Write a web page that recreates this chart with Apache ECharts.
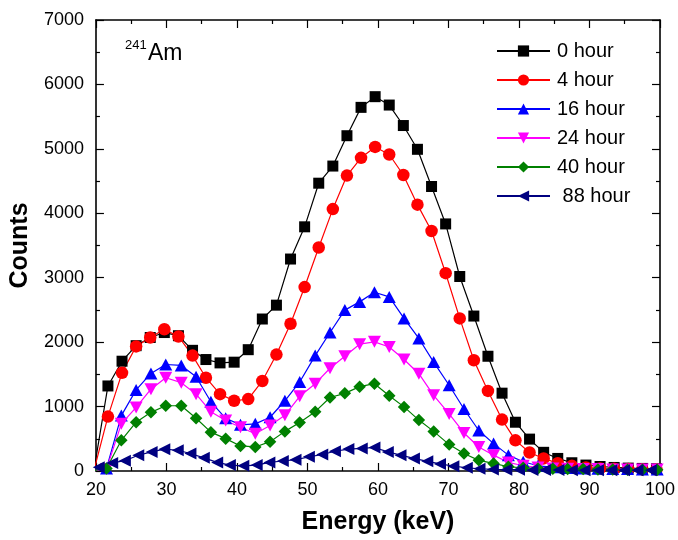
<!DOCTYPE html>
<html>
<head>
<meta charset="utf-8">
<title>241Am counts</title>
<script src="https://cdn.jsdelivr.net/npm/echarts@6/dist/echarts.min.js"></script>
<style>
  html, body { margin: 0; padding: 0; background: #fff; }
  #chart { width: 678px; height: 540px; }
</style>
</head>
<body>
<div id="chart"></div>
<script>
  // energy channels (keV), each group of runs has its own calibration
  var energyA = [19.7, 21.7, 23.7, 25.7, 27.7, 29.7, 31.7, 33.7, 35.6, 37.6, 39.6, 41.6, 43.6, 45.6, 47.6, 49.6, 51.6, 53.6, 55.6, 57.6,
    59.6, 61.6, 63.6, 65.6, 67.6, 69.6, 71.6, 73.6, 75.6, 77.6, 79.5, 81.5, 83.5, 85.5, 87.5, 89.5, 91.5, 93.5, 95.5, 97.5, 99.5]
  var energyB = [19.4, 21.5, 23.6, 25.7, 27.8, 29.9, 32.1, 34.2, 36.3, 38.4, 40.5, 42.6, 44.7, 46.8, 48.9, 51.1, 53.2, 55.3, 57.4, 59.5,
    61.6, 63.7, 65.8, 67.9, 70.1, 72.2, 74.3, 76.4, 78.5, 80.6, 82.7, 84.8, 86.9, 89.1, 91.2, 93.3, 95.4, 97.5, 99.6]
  var energyC = [20.4, 22.3, 24.1, 26.0, 27.9, 29.7, 31.6, 33.4, 35.3, 37.2, 39.0, 40.9, 42.8, 44.6, 46.5, 48.3, 50.2, 52.1, 53.9, 55.8,
    57.7, 59.5, 61.4, 63.2, 65.1, 67.0, 68.8, 70.7, 72.6, 74.4, 76.3, 78.2, 80.0, 81.9, 83.7, 85.6, 87.5, 89.3, 91.2, 93.1, 94.9, 96.8, 98.7]

  var hour0 = [0, 1320, 1704, 1945, 2072, 2149, 2100, 1873, 1730, 1678, 1689, 1883, 2359, 2574, 3290, 3790, 4467, 4733, 5204, 5644,
    5810, 5680, 5362, 4993, 4416, 3835, 3019, 2405, 1781, 1208, 757, 495, 290, 195, 128, 92, 70, 55, 45, 40, 35]
  var hour4 = [0, 844, 1524, 1934, 2072, 2200, 2088, 1791, 1448, 1193, 1090, 1116, 1397, 1807, 2285, 2855, 3469, 4065, 4585, 4861,
    5030, 4912, 4594, 4134, 3725, 3070, 2368, 1719, 1243, 798, 476, 287, 195, 120, 80, 55, 40, 35, 30, 25, 25]
  var hour16 = [0, 40, 860, 1259, 1515, 1653, 1638, 1463, 1074, 818, 716, 732, 834, 1090, 1382, 1791, 2149, 2497, 2625, 2775,
    2702, 2368, 2057, 1690, 1331, 962, 629, 425, 246, 143, 81, 60, 45, 40, 35, 30, 30, 25, 25]
  var hour24 = [0, 30, 732, 987, 1269, 1448, 1371, 1193, 921, 783, 680, 579, 706, 865, 1160, 1355, 1595, 1781, 1968, 2005,
    1924, 1730, 1510, 1175, 886, 590, 373, 246, 133, 81, 55, 40, 35, 30, 30, 25, 25, 25, 25]
  var hour40 = [0, 40, 476, 757, 910, 1013, 1013, 818, 603, 502, 389, 373, 455, 615, 752, 921, 1141, 1205, 1309, 1355,
    1167, 995, 790, 615, 410, 272, 165, 118, 66, 50, 40, 35, 30, 30, 25, 25, 20, 20, 20]
  var hour88 = [60, 125, 160, 245, 296, 338, 322, 271, 204, 133, 92, 81, 92, 133, 155, 175, 220, 256, 307, 340,
    350, 365, 296, 246, 195, 150, 110, 75, 50, 35, 25, 20, 20, 15, 15, 15, 10, 10, 10, 10, 10, 10, 10]

  var seriesNames = ['0 hour', '4 hour', '16 hour', '24 hour', '40 hour', ' 88 hour']
  var xTicks = [20, 30, 40, 50, 60, 70, 80, 90, 100]
  var yTicks = [0, 1000, 2000, 3000, 4000, 5000, 6000, 7000]

  var font = 'Liberation Sans, Arial, sans-serif'

  function pairs(xs, ys) {
    var out = []
    for (var i = 0; i < xs.length; i++) {
      out.push([xs[i], ys[i]])
    }
    return out
  }

  function makeSeries(name, xs, ys, color, symbol, size) {
    return {
      name: name,
      type: 'line',
      xAxisIndex: 0,
      yAxisIndex: 0,
      data: pairs(xs, ys),
      symbol: symbol,
      symbolSize: size,
      showAllSymbol: true,
      clip: true,
      animation: false,
      lineStyle: { color: color, width: 1.2 },
      itemStyle: { color: color, borderWidth: 0 },
      emphasis: { disabled: true }
    }
  }

  var frameAxis = {
    axisLine: { show: true, onZero: false, lineStyle: { color: '#000', width: 1.6 } },
    axisTick: { show: true, inside: true, length: 8, lineStyle: { color: '#000', width: 1.2 } },
    minorTick: { show: true, splitNumber: 2, length: 4, lineStyle: { color: '#000', width: 1.2 } },
    splitLine: { show: false }
  }

  var chart = echarts.init(document.getElementById('chart'), null, { renderer: 'canvas' })

  var option = {
    backgroundColor: '#fff',
    animation: false,
    textStyle: { fontFamily: font },
    grid: { left: 95, top: 20, width: 565, height: 456, containLabel: false },
    legend: {
      data: seriesNames,
      orient: 'vertical',
      left: 491,
      top: 36,
      itemWidth: 53,
      itemHeight: 14,
      itemGap: 9,
      textStyle: { fontFamily: font, fontSize: 20, color: '#000', lineHeight: 20, padding: [0, 0, 0, 2] },
      selectedMode: false
    },
    xAxis: [
      Object.assign({}, frameAxis, {
        type: 'value', position: 'bottom', min: 20, max: 100, interval: 10,
        name: 'Energy (keV)', nameLocation: 'middle', nameGap: 39,
        nameTextStyle: { fontFamily: font, fontSize: 25, fontWeight: 'bold', color: '#000' },
        axisLabel: {
          color: '#000', fontSize: 18, fontFamily: font, margin: 10,
          formatter: function (v) { return xTicks.indexOf(v) >= 0 ? String(v) : '' }
        }
      }),
      Object.assign({}, frameAxis, {
        type: 'value', position: 'top', min: 20, max: 100, interval: 10,
        axisLabel: { show: false }
      })
    ],
    yAxis: [
      Object.assign({}, frameAxis, {
        type: 'value', position: 'left', min: 0, max: 7000, interval: 1000,
        name: 'Counts', nameLocation: 'middle', nameGap: 55,
        nameTextStyle: { fontFamily: font, fontSize: 25, fontWeight: 'bold', color: '#000' },
        axisLabel: {
          color: '#000', fontSize: 18, fontFamily: font, margin: 12,
          formatter: function (v) { return yTicks.indexOf(v) >= 0 ? String(v) : '' }
        }
      }),
      Object.assign({}, frameAxis, {
        type: 'value', position: 'right', min: 0, max: 7000, interval: 1000,
        axisLabel: { show: false }
      })
    ],
    graphic: [
      { type: 'text', left: 125, top: 39, style: { text: '241', font: '13px ' + font, fill: '#000' } },
      { type: 'text', left: 148, top: 42, style: { text: 'Am', font: '23px ' + font, fill: '#000' } }
    ],
    series: [
      makeSeries(seriesNames[0], energyA, hour0, '#000000', 'rect', 11),
      makeSeries(seriesNames[1], energyA, hour4, '#ff0000', 'circle', 12.5),
      makeSeries(seriesNames[2], energyB, hour16, '#0000ff', 'triangle', [13, 12]),
      makeSeries(seriesNames[3], energyB, hour24, '#ff00ff', 'path://M0,0 L10,0 L5,10 Z', [13, 12]),
      makeSeries(seriesNames[4], energyB, hour40, '#008000', 'diamond', [12.5, 12.5]),
      makeSeries(seriesNames[5], energyC, hour88, '#000080', 'path://M0,5 L10,0 L10,10 Z', [12, 12])
    ]
  }

  chart.setOption(option, true)
</script>
</body>
</html>
